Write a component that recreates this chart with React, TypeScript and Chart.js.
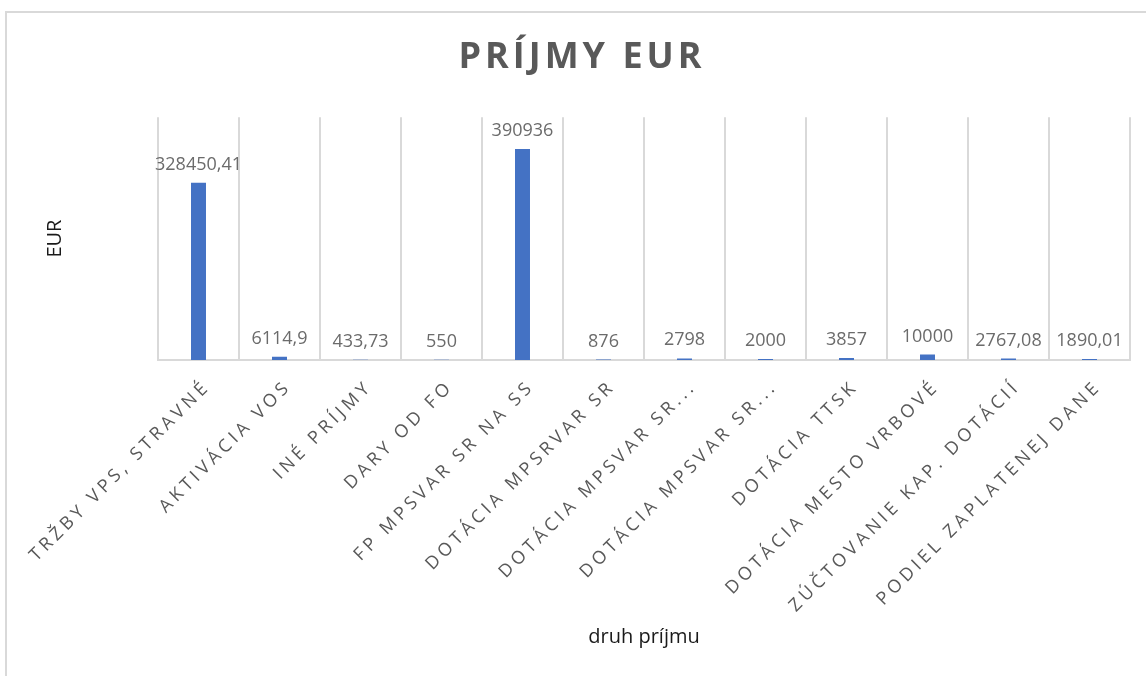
import React, { useEffect, useRef } from "react";
import { Chart, registerables } from "chart.js";

Chart.register(...registerables);

const categories = [
  "TRŽBY VPS, STRAVNÉ",
  "AKTIVÁCIA VOS",
  "INÉ PRÍJMY",
  "DARY OD FO",
  "FP MPSVAR SR NA SS",
  "DOTÁCIA MPSRVAR SR",
  "DOTÁCIA MPSVAR SR...",
  "DOTÁCIA MPSVAR SR...",
  "DOTÁCIA TTSK",
  "DOTÁCIA MESTO VRBOVÉ",
  "ZÚČTOVANIE KAP. DOTÁCIÍ",
  "PODIEL ZAPLATENEJ DANE",
];

const values = [
  328450.41, 6114.9, 433.73, 550, 390936, 876, 2798, 2000, 3857, 10000, 2767.08, 1890.01,
];

const TITLE = "PRÍJMY EUR";
const X_TITLE = "druh príjmu";
const Y_TITLE = "EUR";
const Y_MIN = 0;
const Y_MAX = 450000;

const FONT = "'Open Sans', 'DejaVu Sans', sans-serif";

function formatValue(v: number): string {
  return String(v).replace(".", ",");
}

const spacingPlugin = {
  id: "letterSpacingWrap",
  afterLayout(chart: any) {
    const wrap = (obj: any, method: string, spacing: string) => {
      if (!obj || obj["__wrapped_" + method]) return;
      const orig = obj[method];
      obj[method] = function (...args: any[]) {
        const ctx = chart.ctx as any;
        const prev = ctx.letterSpacing;
        ctx.letterSpacing = spacing;
        try {
          return orig.apply(this, args);
        } finally {
          ctx.letterSpacing = prev || "0px";
        }
      };
      obj["__wrapped_" + method] = true;
    };
    wrap(chart.titleBlock, "draw", "4px");
    wrap(chart.scales.x, "drawLabels", "4px");
  },
};

const valueLabelPlugin = {
  id: "valueLabels",
  afterDatasetsDraw(chart: any) {
    const ctx = chart.ctx;
    const meta = chart.getDatasetMeta(0);
    ctx.save();
    ctx.font = `18px ${FONT}`;
    ctx.fillStyle = "#6b6b6b";
    ctx.textAlign = "center";
    ctx.textBaseline = "alphabetic";
    meta.data.forEach((bar: any, i: number) => {
      ctx.fillText(formatValue(values[i]), bar.x, bar.y - 13);
    });
    ctx.restore();
  },
};

export default function App() {
  const ref = useRef<HTMLCanvasElement>(null);

  useEffect(() => {
    if (!ref.current) return;
    const chart = new Chart(ref.current, {
      type: "bar",
      data: {
        labels: categories,
        datasets: [
          {
            data: values,
            backgroundColor: "#4472C4",
            barPercentage: 0.185,
            categoryPercentage: 1,
          },
        ],
      },
      options: {
        responsive: false,
        animation: false,
        layout: { padding: 0 },
        plugins: {
          legend: { display: false },
          tooltip: { enabled: false },
          title: {
            display: true,
            text: TITLE,
            color: "#595959",
            font: { family: FONT, size: 36, weight: "bold", lineHeight: 1.2 },
            padding: { top: 36, bottom: 38 },
          },
        },
        scales: {
          x: {
            type: "category",
            offset: true,
            grid: {
              display: true,
              offset: true,
              color: "#d9d9d9",
              lineWidth: 2,
              drawTicks: false,
            },
            border: { display: true, color: "#d9d9d9", width: 2 },
            ticks: {
              autoSkip: false,
              minRotation: 45,
              maxRotation: 45,
              padding: 16,
              labelOffset: 9,
              color: "#595959",
              font: { family: FONT, size: 18 },
            },
            title: {
              display: true,
              text: X_TITLE,
              color: "#1a1a1a",
              font: { family: FONT, size: 20 },
              padding: { top: 0, bottom: 27 },
            },
            afterFit: (s: any) => {
              s.height = 316;
              s.paddingLeft = 0;
              s.paddingRight = 0;
            },
          },
          y: {
            position: "left",
            min: Y_MIN,
            max: Y_MAX,
            grid: { display: false },
            border: { display: false },
            ticks: { display: false },
            title: {
              display: true,
              text: Y_TITLE,
              color: "#1a1a1a",
              font: { family: FONT, size: 20 },
              padding: { top: 43, bottom: 0 },
            },
            afterFit: (s: any) => {
              s.width = 158;
            },
          },
          y2: {
            position: "right",
            display: true,
            grid: { display: false },
            border: { display: false },
            ticks: { display: false },
            afterFit: (s: any) => {
              s.width = 34;
            },
          },
        },
      } as any,
      plugins: [spacingPlugin, valueLabelPlugin],
    });
    return () => chart.destroy();
  }, []);

  return (
    <div
      style={{
        position: "absolute",
        left: 0,
        top: 0,
        width: 1146,
        height: 676,
        overflow: "hidden",
        background: "#ffffff",
      }}
    >
      <div
        style={{
          position: "absolute",
          left: 5,
          top: 11,
          width: 1200,
          height: 700,
          borderLeft: "2px solid #d9d9d9",
          borderTop: "2px solid #d9d9d9",
        }}
      />
      <canvas
        ref={ref}
        width={1164}
        height={676}
        style={{ position: "absolute", left: 0, top: 0, display: "block" }}
      />
    </div>
  );
}
